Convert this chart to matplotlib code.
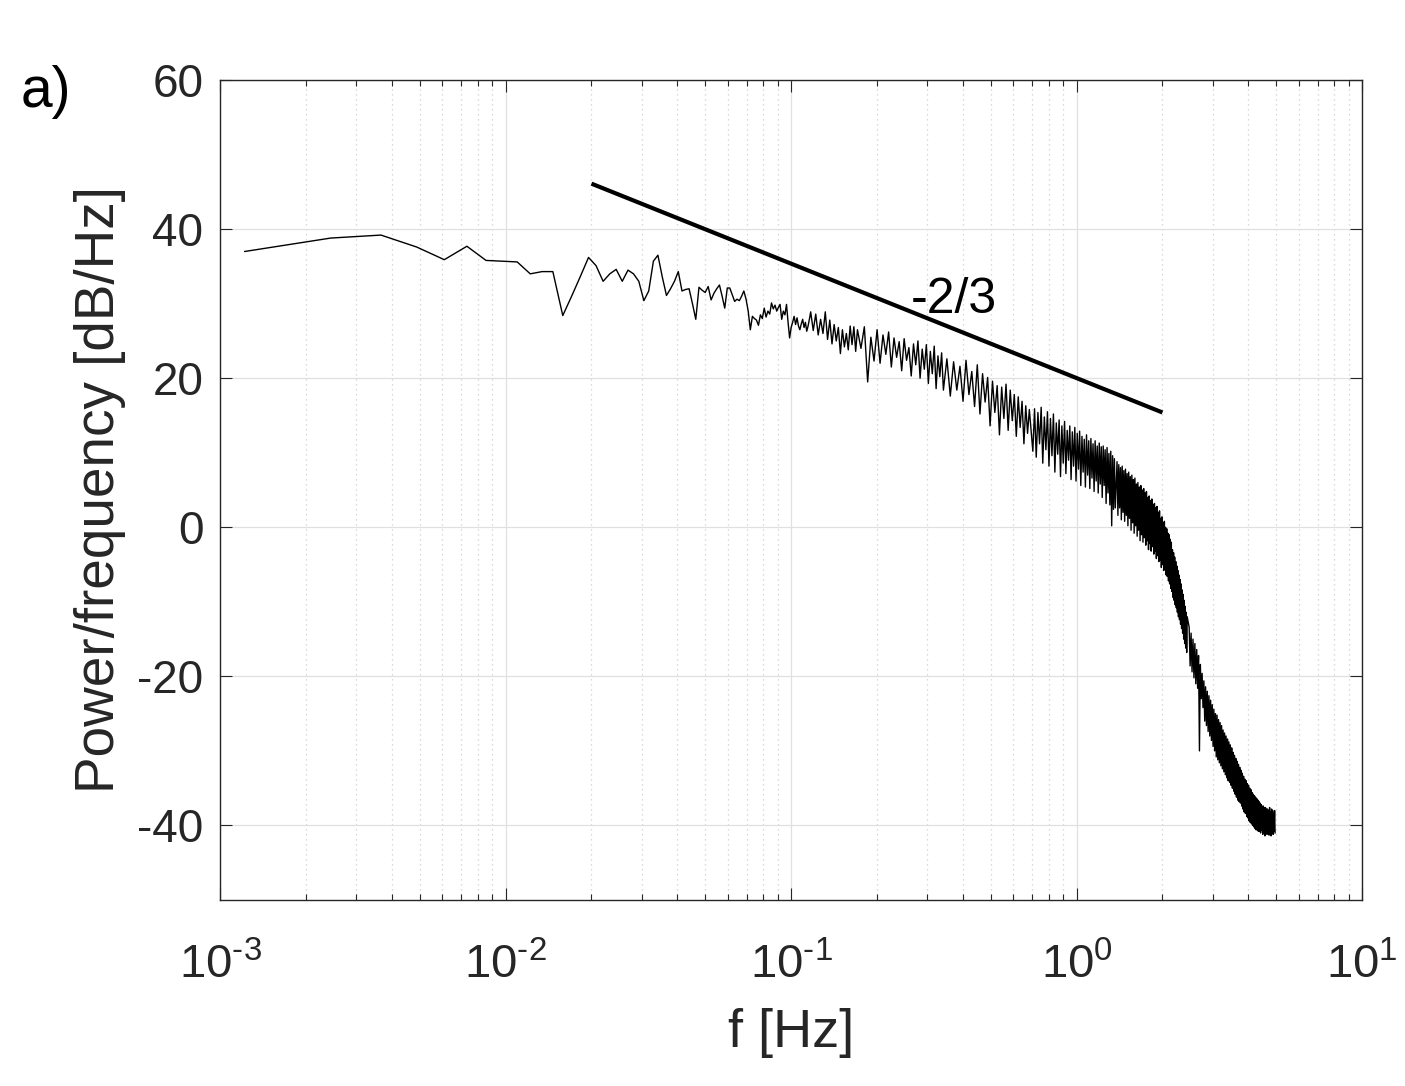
import numpy as np
import matplotlib
matplotlib.use("Agg")
import matplotlib.pyplot as plt
from matplotlib.ticker import LogLocator, FixedLocator, NullFormatter

plt.rcParams['font.family'] = ['Liberation Sans', 'DejaVu Sans']
plt.rcParams['mathtext.fontset'] = 'custom'
plt.rcParams['mathtext.rm'] = 'Liberation Sans'
plt.rcParams['mathtext.default'] = 'regular'

# ---------------- data ----------------
df_hz = 10.0 / 8192.0          # frequency resolution (bin spacing)

# spectrum segments: first bin index, bin step, PSD values [dB/Hz]
seg_start = [1, 96, 144, 288, 576, 1136, 2032]
seg_step = [1, 2, 4, 8, 8, 8, 16]

psd_a = [37.0, 38.8, 39.2, 37.6, 35.9, 37.7, 35.8, 35.7, 35.6, 34.0,
         34.3, 34.3, 28.4, 31.1, 33.7, 36.2, 35.1, 33.0, 34.0, 34.6,
         33.0, 34.5, 34.0, 33.0, 30.4, 31.7, 35.7, 36.5, 33.6, 31.1,
         32.0, 33.0, 34.3, 31.7, 31.9, 32.0, 30.0, 27.9, 32.2, 31.8,
         31.5, 32.3, 30.5, 31.4, 32.0, 32.5, 31.0, 29.4, 32.1, 32.1,
         31.2, 30.3, 30.6, 30.4, 31.0, 31.7, 30.6, 29.0, 26.5, 28.3,
         28.0, 27.8, 27.1, 28.5, 28.0, 29.4, 28.2, 29.0, 28.6, 30.1,
         29.3, 29.8, 29.0, 29.5, 29.9, 27.9, 29.0, 28.5, 29.9, 27.5,
         25.4, 26.8, 27.5, 28.3, 27.2, 28.1, 27.0, 26.5, 27.3, 27.9,
         26.8, 27.5, 26.3, 27.0, 27.9]
psd_b = [28.9, 26.4, 28.6, 25.8, 27.9, 26.0, 28.9, 25.2, 27.8, 24.6,
         27.2, 25.0, 26.8, 23.3, 26.5, 24.2, 26.0, 23.8, 27.0, 24.5,
         26.9, 23.6, 26.5]
psd_c = [24.0, 26.9, 19.5, 25.5, 22.3, 26.5, 22.0, 25.8, 23.2, 26.2,
         21.5, 25.4, 22.8, 24.9, 21.0, 25.3, 22.4, 24.1, 20.3, 24.6,
         21.8, 25.0, 20.0, 23.9, 21.2, 24.5, 19.3, 23.6, 20.6, 24.3,
         18.6, 23.0, 20.2, 23.4, 18.4]
psd_d = [22.6, 17.6, 22.2, 18.4, 21.6, 16.9, 22.4, 17.8, 20.9, 16.2,
         21.8, 15.2, 20.6, 16.8, 20.1, 13.6, 19.6, 15.4, 19.0, 12.4,
         18.8, 14.6, 19.2, 13.0, 18.4, 14.3, 17.8, 12.2, 17.5, 13.4,
         16.9, 11.2, 16.3, 12.6, 15.8]
psd_e = [10.2, 15.9, 9.4, 15.4, 11.2, 16.1, 8.6, 14.8, 10.4, 15.5,
         8.2, 14.6, 9.6, 15.2, 7.4, 14.0, 9.8, 14.4, 6.8, 13.6,
         8.6, 14.2, 7.2, 13.0, 9.0, 13.6, 6.4, 12.8, 8.2, 13.4,
         6.2, 12.6, 7.8, 12.9, 5.6, 12.2, 7.4, 11.8, 5.4, 12.4,
         7.0, 11.6, 5.2, 11.9, 6.6, 11.2, 4.8, 11.6, 6.2, 10.9,
         4.6, 11.3, 5.8, 10.8, 4.0, 10.9, 5.6, 10.4, 3.2, 10.7,
         4.6, 9.9, 3.0, 10.2, 0.2, 9.6, 2.4, 9.2, 2.6]
psd_f = [8.8, 1.6, 8.4, 2.6, 8.0, 1.0, 8.2, 2.0, 7.6, 0.8,
         7.8, 1.6, 7.2, 0.2, 7.4, 1.2, 6.8, -0.4, 7.0, 0.6,
         6.4, -0.8, 6.6, 0.2, 5.8, -1.2, 6.0, -0.4, 5.4, -1.8,
         5.6, -1.0, 5.0, -2.0, 5.2, -1.4, 4.6, -2.4, 4.8, -1.8,
         4.0, -3.0, 4.2, -2.2, 3.6, -3.2, 3.8, -2.6, 3.0, -3.6,
         3.2, -3.2, 2.6, -4.2, 2.8, -3.8, 2.0, -4.6, 2.2, -4.4,
         1.2, -5.4, 1.4, -5.0, 0.6, -5.8, 0.8, -5.6, 0.0, -6.4,
         -0.2, -6.6, -0.8, -7.2, -1.0, -7.6, -1.6, -8.2, -2.0, -8.6,
         -3.0, -9.4, -3.4, -9.8, -4.0, -10.4, -4.6, -10.8, -5.2, -11.4,
         -5.8, -12.0, -6.4, -12.4, -7.0, -13.0, -7.6, -13.6, -8.4, -14.2,
         -9.0, -15.0, -9.8, -15.6, -10.6, -16.2, -11.4, -16.8, -12.0]
psd_g = [-13.4, -18.6, -14.2, -19.4, -15.0, -20.2, -15.6, -21.0, -16.4, -21.6,
         -17.2, -30.0, -18.4, -23.0, -19.6, -24.2,
         -20.6, -26.0, -21.4, -26.6, -22.0, -27.4, -22.6, -28.0, -23.2, -28.6,
         -23.8, -29.4, -24.4, -30.0, -25.0, -30.8,
         -25.2, -31.2, -25.8, -31.6, -26.2, -32.0, -26.6, -32.4, -27.2, -32.8,
         -27.6, -33.2, -28.0, -33.6, -28.4, -34.0,
         -28.8, -34.2, -29.2, -34.6, -29.6, -35.0, -30.2, -35.4, -30.6, -35.8,
         -31.0, -36.2, -31.4, -36.6, -31.8, -36.8,
         -32.2, -37.0, -32.6, -37.4, -33.0, -37.8, -33.4, -38.2, -33.8, -38.4,
         -34.0, -38.8, -34.4, -39.0, -34.6, -39.4,
         -35.0, -39.6, -35.2, -39.8, -35.6, -40.0, -35.8, -40.2, -36.0, -40.4,
         -36.2, -40.6, -36.4, -40.6, -36.6, -40.8,
         -36.8, -40.8, -37.0, -41.0, -37.2, -40.6, -37.4, -41.2, -37.4, -40.8,
         -37.6, -41.4, -37.6, -40.9, -37.8, -41.2,
         -37.8, -40.7, -38.0, -41.3, -37.6, -40.8, -38.2, -41.4, -37.8, -40.6,
         -38.0, -41.2, -38.4, -40.8, -38.0, -41.0]

# reference slope line
ref_f = [0.02, 2.0]
ref_db = [46.1, 15.4]
ref_label = "-2/3"

x_ticks = [1e-3, 1e-2, 1e-1, 1e0, 1e1]
x_ticklabels = ["$10^{\u20103}$", "$10^{\u20102}$", "$10^{\u20101}$", "$10^{0}$", "$10^{1}$"]
y_ticks = [-40, -20, 0, 20, 40, 60]

# ---------------- build the series ----------------
segments = [psd_a, psd_b, psd_c, psd_d, psd_e, psd_f, psd_g]
freq = np.concatenate([(s + st * np.arange(len(v))) * df_hz
                       for s, st, v in zip(seg_start, seg_step, segments)])
psd = np.concatenate([np.asarray(v, float) for v in segments])

# ---------------- figure ----------------
fig = plt.figure(figsize=(14.05, 10.86), dpi=100)
ax = fig.add_axes([0.1566, 0.1713, 0.8128, 0.7550])

ax.semilogx(freq, psd, color='black', lw=1.0)
ax.plot(ref_f, ref_db, color='black', lw=3.0, solid_capstyle='butt')
ax.text(0.262, 28.8, ref_label, fontsize=36, ha='left', va='baseline')

ax.set_xlim(1e-3, 1e1)
ax.set_ylim(-50, 60)
ax.xaxis.set_major_locator(FixedLocator(x_ticks))
ax.set_xticklabels(x_ticklabels)
ax.xaxis.set_minor_locator(LogLocator(base=10, subs=np.arange(2, 10), numticks=20))
ax.xaxis.set_minor_formatter(NullFormatter())
ax.set_yticks(y_ticks)
ax.set_yticklabels([str(t) if t >= 0 else "-%d" % (-t) for t in y_ticks])

ax.grid(True, which='major', color='#e0e0e0', lw=0.9, ls='-')
ax.grid(True, which='minor', axis='x', color='#cfcfcf', lw=0.9, ls=(0, (1, 3)))
ax.set_axisbelow(True)

for sp in ax.spines.values():
    sp.set_color('#262626')
    sp.set_linewidth(1.0)

ax.tick_params(which='both', direction='in', top=True, right=True,
               color='#262626', width=0.8, labelcolor='#262626')
ax.tick_params(which='major', length=8.5, labelsize=34)
ax.tick_params(which='minor', length=4.5)
ax.tick_params(axis='y', pad=12, labelsize=33)
ax.tick_params(axis='x', pad=31)

ax.set_xlabel("f [Hz]", fontsize=39, color='#262626', labelpad=14)
ax.set_ylabel("Power/frequency [dB/Hz]", fontsize=39.5, color='#262626', labelpad=8)

fig.text(21 / 1405, 1 - 107 / 1086, "a)", fontsize=41, ha='left', va='baseline',
         color='black')

fig.savefig("out.png", dpi=100)
